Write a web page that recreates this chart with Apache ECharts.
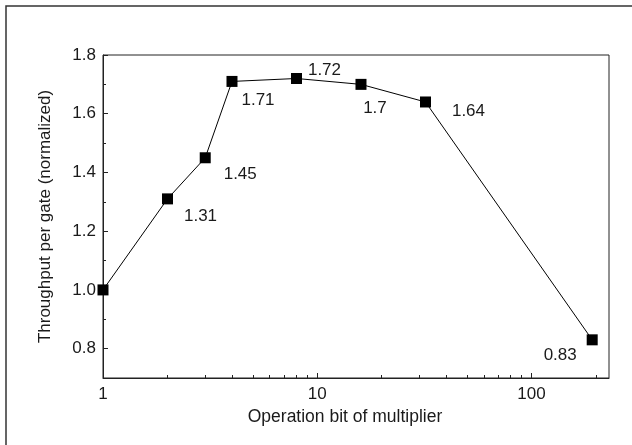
<!DOCTYPE html>
<html>
<head>
<meta charset="utf-8">
<script src="https://cdn.jsdelivr.net/npm/echarts@6/dist/echarts.min.js"></script>
<style>html,body{margin:0;padding:0;background:#fff;}#c{width:632px;height:445px;}</style>
</head>
<body>
<div id="c"></div>
<script>
var bits = [1, 2, 3, 4, 8, 16, 32, 192];
var throughput = [1.0, 1.31, 1.45, 1.71, 1.72, 1.70, 1.64, 0.83];
var pointLabels = ['', '1.31', '1.45', '1.71', '1.72', '1.7', '1.64', '0.83'];
var xMajorTicks = [1, 10, 100];
var xMinorTicks = [2, 3, 4, 5, 6, 7, 8, 9, 20, 30, 40, 50, 60, 70, 80, 90, 200];
var yMajorTicks = [0.8, 1.0, 1.2, 1.4, 1.6, 1.8];
var yMinorTicks = [0.9, 1.1, 1.3, 1.5, 1.7];

var labelOffsets = [[0,0],[33,17],[35,17],[26,19],[28,-8],[14,24],[43,9],[-32,15]];
var FONT = 'Liberation Sans, Arial, sans-serif';
var TXT = '#1a1a1a';

var data = bits.map(function (b, i) {
  return {
    value: [b, throughput[i]],
    label: {
      show: pointLabels[i] !== '',
      formatter: pointLabels[i],
      position: 'inside',
      offset: labelOffsets[i],
      align: 'center',
      verticalAlign: 'middle'
    }
  };
});

var chart = echarts.init(document.getElementById('c'), null, {renderer: 'canvas'});
chart.setOption({
  animation: false,
  backgroundColor: '#fff',
  graphic: [{
    type: 'rect',
    shape: {x: 6, y: 6, width: 700, height: 500},
    style: {fill: 'none', stroke: '#333', lineWidth: 1.5},
    silent: true
  }],
  grid: {
    left: 103, top: 55, right: 23, bottom: 67,
    show: true, borderColor: '#222', borderWidth: 1, backgroundColor: 'transparent'
  },
  xAxis: [{
    type: 'log', logBase: 10, min: 1, max: 230,
    name: 'Operation bit of multiplier',
    nameLocation: 'middle', nameGap: 16,
    nameTextStyle: {fontFamily: FONT, fontSize: 17.5, color: TXT, verticalAlign: 'top', padding: [0, 22, 0, 0]},
    axisLine: {show: true, lineStyle: {color: '#222', width: 1}},
    axisTick: {show: true, inside: true, length: 5, customValues: xMajorTicks, lineStyle: {color: '#222'}},
    axisLabel: {show: true, customValues: xMajorTicks, margin: 8, fontFamily: FONT, fontSize: 17, color: TXT},
    splitLine: {show: false}
  }, {
    type: 'log', logBase: 10, min: 1, max: 230, position: 'bottom',
    axisLine: {show: false},
    axisTick: {show: true, inside: true, length: 3, customValues: xMinorTicks, lineStyle: {color: '#222'}},
    axisLabel: {show: false},
    splitLine: {show: false}
  }],
  yAxis: [{
    type: 'value', min: 0.7, max: 1.8,
    name: 'Throughput per gate (normalized)',
    nameLocation: 'middle', nameGap: 49, nameRotate: 90,
    nameTextStyle: {fontFamily: FONT, fontSize: 17, color: TXT},
    axisLine: {show: true, lineStyle: {color: '#222', width: 1}},
    axisTick: {show: true, inside: true, length: 5, customValues: yMajorTicks, lineStyle: {color: '#222'}},
    axisLabel: {show: true, customValues: yMajorTicks, margin: 7, fontFamily: FONT, fontSize: 17, color: TXT,
      formatter: function (v) { return v.toFixed(1); }},
    splitLine: {show: false}
  }, {
    type: 'value', min: 0.7, max: 1.8, position: 'left',
    axisLine: {show: false},
    axisTick: {show: true, inside: true, length: 3, customValues: yMinorTicks, lineStyle: {color: '#222'}},
    axisLabel: {show: false},
    splitLine: {show: false}
  }],
  series: [{
    type: 'line',
    xAxisIndex: 0, yAxisIndex: 0,
    data: data,
    symbol: 'rect', symbolSize: 11,
    lineStyle: {color: '#000', width: 1},
    itemStyle: {color: '#000'},
    label: {fontFamily: FONT, fontSize: 17, color: TXT},
    z: 5
  }]
});
</script>
</body>
</html>
